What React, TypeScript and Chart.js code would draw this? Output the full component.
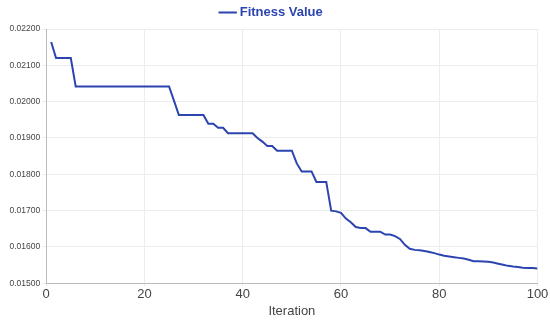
import React, { useEffect, useRef } from "react";
import { Chart, registerables } from "chart.js";

Chart.register(...registerables);

const iterations: number[] = Array.from({ length: 100 }, (_, i) => i + 1);

const fitnessValues: number[] = [
  0.02164, 0.0212, 0.0212, 0.0212, 0.0212, 0.02042, 0.02042, 0.02042, 0.02042, 0.02042,
  0.02042, 0.02042, 0.02042, 0.02042, 0.02042, 0.02042, 0.02042, 0.02042, 0.02042, 0.02042,
  0.02042, 0.02042, 0.02042, 0.02042, 0.02042, 0.02003, 0.01963, 0.01963, 0.01963, 0.01963,
  0.01963, 0.01963, 0.01939, 0.01939, 0.01928, 0.01928, 0.01913, 0.01913, 0.01913, 0.01913,
  0.01913, 0.01913, 0.019, 0.0189, 0.01878, 0.01878, 0.01865, 0.01865, 0.01865, 0.01865,
  0.0183, 0.01808, 0.01808, 0.01808, 0.01779, 0.01779, 0.01779, 0.017, 0.01698, 0.01694,
  0.01678, 0.01668, 0.01655, 0.01652, 0.01652, 0.01642, 0.01642, 0.01642, 0.01634, 0.01634,
  0.0163, 0.01622, 0.01606, 0.01595, 0.01592, 0.01591, 0.01589, 0.01586, 0.01583, 0.01579,
  0.01576, 0.01574, 0.01572, 0.0157, 0.01568, 0.01565, 0.01561, 0.01561, 0.0156, 0.01559,
  0.01557, 0.01554, 0.01551, 0.01548, 0.01546, 0.01545, 0.01543, 0.01542, 0.01542, 0.01541,
];

const seriesLabel = "Fitness Value";
const xTitle = "Iteration";

export default function App() {
  const ref = useRef<HTMLCanvasElement | null>(null);
  useEffect(() => {
    if (!ref.current) return;
    const chart = new Chart(ref.current, {
      type: "line",
      data: {
        datasets: [
          {
            label: seriesLabel,
            data: iterations.map((x, i) => ({ x, y: fitnessValues[i] })),
            borderColor: "#2b44b0",
            backgroundColor: "#2b44b0",
            borderWidth: 2,
            pointRadius: 0,
            tension: 0,
            fill: false,
          },
        ],
      },
      options: {
        animation: false,
        responsive: true,
        maintainAspectRatio: false,
        layout: { padding: { left: 7.5, right: 12.5, top: 2, bottom: 8.5 } },
        plugins: {
          legend: {
            position: "top",
            labels: {
              usePointStyle: true,
              pointStyle: "line",
              boxWidth: 11,
              color: "#2b44b0",
              font: { family: "'Liberation Sans Narrow', 'Liberation Sans', sans-serif", size: 13, weight: "bold" },
              padding: 4,
            },
          },
          tooltip: { enabled: false },
        },
        scales: {
          x: {
            type: "linear",
            min: 0,
            max: 100,
            ticks: {
              stepSize: 20,
              color: "#444",
              font: { family: "'Liberation Sans', Arial, sans-serif", size: 13 },
              padding: 0,
            },
            grid: { color: "#ececec", tickLength: 3 },
            border: { color: "#bbb" },
            title: {
              display: true,
              text: xTitle,
              color: "#444",
              font: { family: "'Liberation Sans', Arial, sans-serif", size: 13 },
              padding: { top: 2, bottom: 0 },
            },
          },
          y: {
            type: "linear",
            min: 0.015,
            max: 0.022,
            ticks: {
              stepSize: 0.001,
              color: "#444",
              font: { family: "'Liberation Sans', Arial, sans-serif", size: 8.5 },
              padding: 2,
              callback: (v: any) => Number(v).toFixed(5),
            },
            grid: { color: "#ececec", tickLength: 4 },
            border: { color: "#bbb" },
          },
        },
      },
    });
    return () => chart.destroy();
  }, []);
  return (
    <div style={{ position: "fixed", left: 0, top: 0, width: 550, height: 328, background: "#fff" }}>
      <canvas ref={ref} />
    </div>
  );
}
